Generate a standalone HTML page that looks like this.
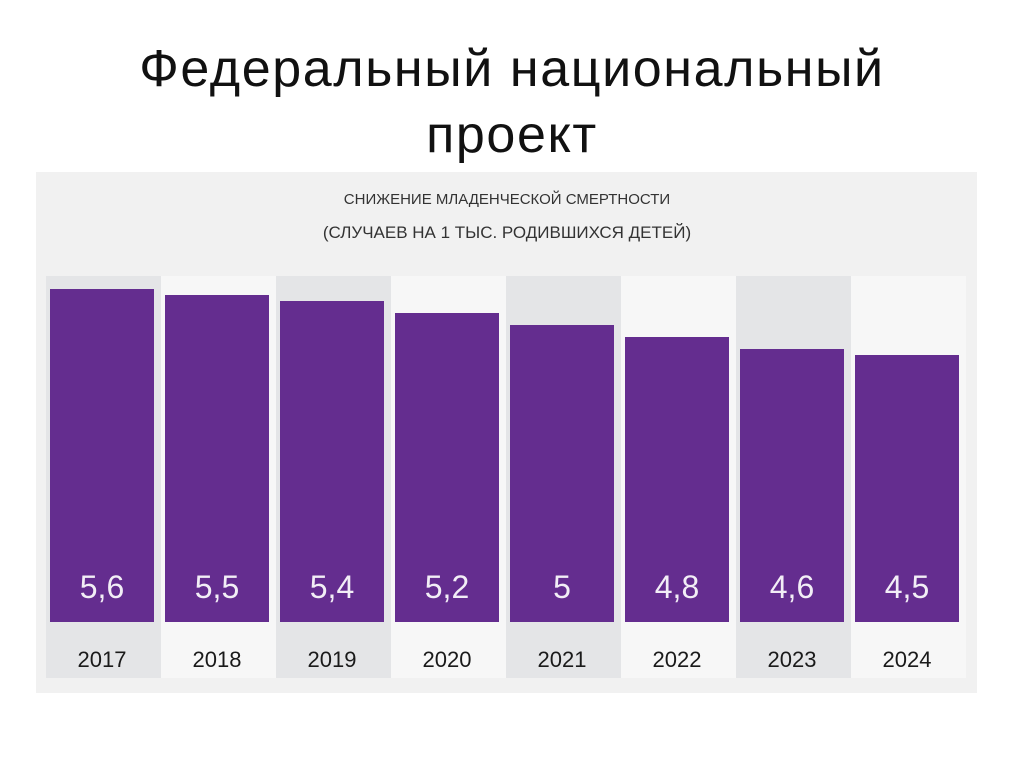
<!DOCTYPE html>
<html><head><meta charset="utf-8"><style>
body{margin:0;width:1024px;height:767px;background:#fff;overflow:hidden;font-family:"Liberation Sans","DejaVu Sans",sans-serif}
h1{position:absolute;left:0;top:36px;width:1024px;margin:0;text-align:center;font-weight:normal;font-size:52px;letter-spacing:1.6px;line-height:66px;color:#111}
</style></head><body>
<h1>Федеральный национальный<br>проект</h1>
<svg id="c" width="1024" height="767" style="position:absolute;left:0;top:0">
<rect x="36" y="172" width="941" height="521" fill="#f1f1f1"/>
<text x="507" y="204" text-anchor="middle" font-size="15" fill="#333">СНИЖЕНИЕ МЛАДЕНЧЕСКОЙ СМЕРТНОСТИ</text>
<text x="507" y="238" text-anchor="middle" font-size="17" fill="#333">(СЛУЧАЕВ НА 1 ТЫС. РОДИВШИХСЯ ДЕТЕЙ)</text>
</svg>
<script>
const years=["2017","2018","2019","2020","2021","2022","2023","2024"];
const values=[5.6,5.5,5.4,5.2,5,4.8,4.6,4.5];
const labels=["5,6","5,5","5,4","5,2","5","4,8","4,6","4,5"];
const svg=document.getElementById('c');
const NS='http://www.w3.org/2000/svg';
const x0=46,cw=115,base=622;
function xs(i){return x0+i*cw;}
function ys(v){return 625-60*v;}
function mk(t,a){const e=document.createElementNS(NS,t);for(const k in a)e.setAttribute(k,a[k]);svg.appendChild(e);return e;}
years.forEach((y,i)=>{
 const bg=mk('rect',{x:xs(i),y:276,width:cw,height:402,fill:i%2?'#f7f7f7':'#e4e5e7'});
 
 
 const b=mk('rect',{x:xs(i)+4,y:ys(values[i]),width:104,height:base-ys(values[i]),fill:'#642d8f'});
 
 
 const v=mk('text',{x:xs(i)+56,y:598,'text-anchor':'middle','font-size':32,fill:'#f2eef6'});
 v.textContent=labels[i];
 
 
 const t=mk('text',{x:xs(i)+56,y:667,'text-anchor':'middle','font-size':22,fill:'#1a1a1a'});
 t.textContent=y;
 
 
});
</script>
</body></html>
